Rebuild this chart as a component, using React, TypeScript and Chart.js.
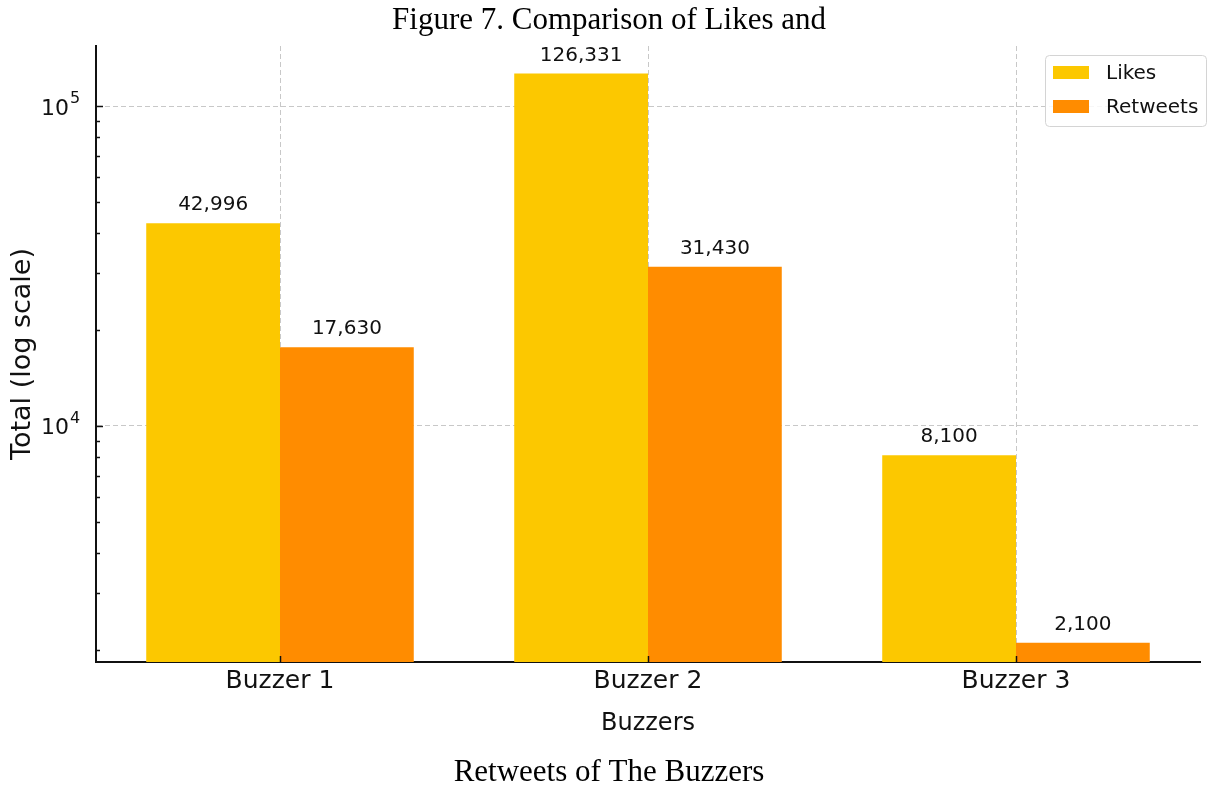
import React, { useEffect, useRef } from 'react';
import { Chart, registerables } from 'chart.js';

Chart.register(...registerables);

// ---- data ----
const buzzers = ['Buzzer 1', 'Buzzer 2', 'Buzzer 3'];
const seriesNames = ['Likes', 'Retweets'];
const likes = [42996, 126331, 8100];
const retweets = [17630, 31430, 2100];

// log axis: tick positions (every 1..9 × 10^k) and the labelled decades
const yTickValues = [
  2000, 3000, 4000, 5000, 6000, 7000, 8000, 9000,
  10000, 20000, 30000, 40000, 50000, 60000, 70000, 80000, 90000,
  100000,
];
const yDecadeValues = [10000, 100000];
const yDecadeExponents = ['4', '5'];
const yMin = 1830;
const yMax = 154000;

const figureTitle = 'Figure 7. Comparison of Likes and';
const figureCaption = 'Retweets of The Buzzers';
const xTitle = 'Buzzers';
const yTitle = 'Total (log scale)';

// ---- styles ----
const LIKES_COLOR = '#FCC800';
const RETWEETS_COLOR = '#FF8C00';
const SANS = '"DejaVu Sans", "Noto Sans", sans-serif';
const SERIF = '"Liberation Serif", "DejaVu Serif", serif';
const INK = '#111111';
const GRID = '#c8c8c8';

const isDecade = (v: number) => yDecadeValues.indexOf(v) >= 0;

// value labels, inward tick marks, decade labels, legend and figure caption
const decorPlugin = {
  id: 'decor',
  afterDatasetsDraw(chart: any) {
    const ctx: CanvasRenderingContext2D = chart.ctx;
    ctx.save();
    ctx.font = `20px ${SANS}`;
    ctx.fillStyle = INK;
    ctx.textAlign = 'center';
    ctx.textBaseline = 'alphabetic';
    chart.data.datasets.forEach((ds: any, di: number) => {
      const meta = chart.getDatasetMeta(di);
      meta.data.forEach((bar: any, i: number) => {
        const v = ds.data[i] as number;
        ctx.fillText(v.toLocaleString('en-US'), bar.x, bar.y - 13);
      });
    });

    const { left, bottom } = chart.chartArea;
    const ys = chart.scales.y;
    const xs = chart.scales.x;
    ctx.strokeStyle = INK;
    ctx.lineWidth = 1.5;
    ys.ticks.forEach((t: any) => {
      const py = Math.round(ys.getPixelForValue(t.value)) + 0.5;
      const len = isDecade(t.value) ? 7 : 4;
      ctx.beginPath();
      ctx.moveTo(left, py);
      ctx.lineTo(left + len, py);
      ctx.stroke();
    });
    xs.ticks.forEach((_t: any, i: number) => {
      const px = Math.round(xs.getPixelForTick(i)) + 0.5;
      ctx.beginPath();
      ctx.moveTo(px, bottom);
      ctx.lineTo(px, bottom - 6);
      ctx.stroke();
    });

    // decade labels written as 10 with a raised exponent
    ctx.fillStyle = INK;
    ctx.textBaseline = 'alphabetic';
    yDecadeValues.forEach((v, i) => {
      const py = ys.getPixelForValue(v);
      const baseRight = left - 27;
      ctx.font = `22px ${SANS}`;
      ctx.textAlign = 'right';
      ctx.fillText('10', baseRight, py + 8.5);
      ctx.font = `16px ${SANS}`;
      ctx.textAlign = 'left';
      ctx.fillText(yDecadeExponents[i], baseRight + 1, py - 3);
    });
    ctx.restore();
  },
  afterDraw(chart: any) {
    const ctx: CanvasRenderingContext2D = chart.ctx;
    ctx.save();

    // legend
    ctx.beginPath();
    (ctx as any).roundRect(1045.5, 55.5, 161, 71, 4);
    ctx.fillStyle = 'rgba(255,255,255,0.85)';
    ctx.fill();
    ctx.strokeStyle = '#d4d4d4';
    ctx.lineWidth = 1;
    ctx.stroke();
    const colors = [LIKES_COLOR, RETWEETS_COLOR];
    seriesNames.forEach((name, i) => {
      const rowY = 66 + i * 34;
      ctx.fillStyle = colors[i];
      ctx.fillRect(1053, rowY, 36, 13);
      ctx.fillStyle = INK;
      ctx.font = `20px ${SANS}`;
      ctx.textAlign = 'left';
      ctx.textBaseline = 'alphabetic';
      ctx.fillText(name, 1106, rowY + 13);
    });

    // figure caption, split above and below the chart
    ctx.fillStyle = '#000';
    ctx.font = `31px ${SERIF}`;
    ctx.textAlign = 'center';
    ctx.textBaseline = 'alphabetic';
    ctx.fillText(figureTitle, 609, 29);
    ctx.fillText(figureCaption, 609, 781);
    ctx.restore();
  },
};

export default function App() {
  const canvasRef = useRef<HTMLCanvasElement | null>(null);

  useEffect(() => {
    const canvas = canvasRef.current;
    if (!canvas) return;
    const chart = new Chart(canvas, {
      type: 'bar',
      data: {
        labels: buzzers,
        datasets: [
          {
            label: seriesNames[0],
            data: likes,
            backgroundColor: LIKES_COLOR,
            borderWidth: 0,
            categoryPercentage: 0.727,
            barPercentage: 1,
          },
          {
            label: seriesNames[1],
            data: retweets,
            backgroundColor: RETWEETS_COLOR,
            borderWidth: 0,
            categoryPercentage: 0.727,
            barPercentage: 1,
          },
        ],
      },
      options: {
        animation: false,
        responsive: false,
        maintainAspectRatio: false,
        devicePixelRatio: 1,
        layout: { padding: { top: 46, right: 8, left: 0, bottom: 0 } },
        plugins: {
          legend: { display: false },
          tooltip: { enabled: false },
          title: { display: false },
        },
        scales: {
          x: {
            offset: true,
            grid: { offset: false, color: GRID, lineWidth: 1, drawTicks: false },
            border: { display: true, color: INK, width: 2, dash: [5, 3] },
            ticks: { font: { family: SANS, size: 25 }, color: INK, padding: 4 },
            title: {
              display: true,
              text: xTitle,
              color: INK,
              font: { family: SANS, size: 24 },
              padding: { top: 0, bottom: 48 },
            },
            afterFit: (s: any) => {
              s.height = 124;
            },
          },
          y: {
            type: 'logarithmic',
            min: yMin,
            max: yMax,
            afterBuildTicks: (s: any) => {
              s.ticks = yTickValues.map((v) => ({ value: v, major: isDecade(v) }));
            },
            ticks: {
              autoSkip: false,
              font: { family: SANS, size: 22 },
              color: INK,
              padding: 17,
              callback: () => '',
            },
            grid: {
              color: (c: any) => (c.tick && isDecade(c.tick.value) ? GRID : 'rgba(0,0,0,0)'),
              lineWidth: 1,
              drawTicks: false,
            },
            border: { display: true, color: INK, width: 2, dash: [5, 3] },
            title: {
              display: true,
              text: yTitle,
              color: INK,
              font: { family: SANS, size: 27 },
              padding: { top: 7, bottom: 0 },
            },
            afterFit: (s: any) => {
              s.width = 96;
            },
          },
        },
      } as any,
      plugins: [decorPlugin],
    });
    return () => chart.destroy();
  }, []);

  return (
    <div style={{ position: 'absolute', left: 0, top: 0, width: 1208, height: 786, background: '#fff' }}>
      <canvas ref={canvasRef} width={1208} height={786} style={{ display: 'block' }} />
    </div>
  );
}
